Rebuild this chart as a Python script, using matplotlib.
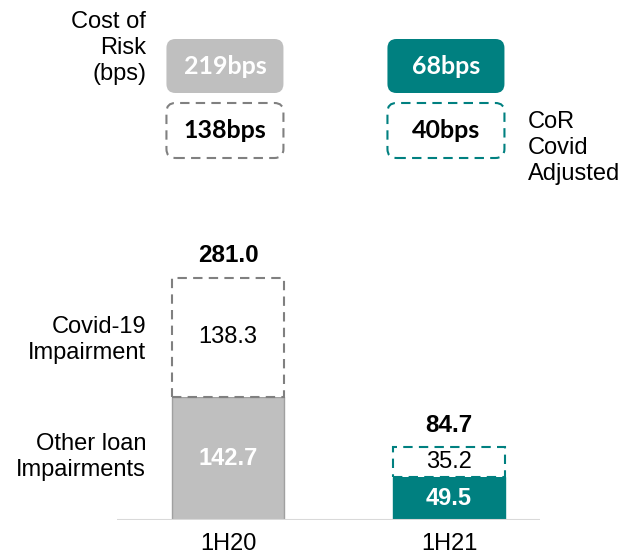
import matplotlib.pyplot as plt
from matplotlib.patches import FancyBboxPatch

plt.rcParams['font.family'] = ['Liberation Sans', 'DejaVu Sans']

periods = ['1H20', '1H21']
other_loan = [142.7, 49.5]
covid = [138.3, 35.2]
totals = [281.0, 84.7]
cor_bps = ['219bps', '68bps']
cor_adj_bps = ['138bps', '40bps']

grey = '#BFBFBF'
teal = '#008080'
solid_cols = [grey, teal]
dash_cols = ['#808080', teal]
label_cols = ['white', 'white']

W, H = 625, 557
fig = plt.figure(figsize=(W / 100, H / 100), dpi=100)

# bar axes: baseline at y=520px from top
ax = fig.add_axes([117 / W, 37 / H, 423 / W, 280 / H])
ax.set_xlim(-0.502, 1.412)
ax.set_ylim(0, 280 / 0.862)
x = range(len(periods))
bw = 0.506

ax.bar(x, other_loan, width=bw, color=solid_cols,
       edgecolor=['#A0A0A0', teal], linewidth=1.0, zorder=2)
ax.bar(x, covid, bottom=other_loan, width=bw, color='white',
       edgecolor=dash_cols, linewidth=1.5, linestyle=(0, (4.5, 3)), zorder=2)

for i in x:
    ax.text(i, other_loan[i] / 2, f'{other_loan[i]:.1f}', ha='center', va='center',
            fontsize=17, fontweight='bold', color=label_cols[i])
    ax.text(i, other_loan[i] + covid[i] / 2, f'{covid[i]:.1f}', ha='center',
            va='center', fontsize=17, color='black')
    ax.text(i, totals[i] + 12, f'{totals[i]:.1f}', ha='center', va='bottom',
            fontsize=17.5, fontweight='bold', color='black')
    ax.text(i, -15, periods[i], ha='center', va='top', fontsize=17, color='black')

ax.axhline(0, color='#D9D9D9', linewidth=1.5, zorder=3)
for s in ax.spines.values():
    s.set_visible(False)
ax.set_xticks([])
ax.set_yticks([])

# side labels
fig.text(146 / W, 1 - 340 / H, 'Covid-19\nImpairment', ha='right', va='center',
         fontsize=17, linespacing=1.25)
fig.text(146 / W, 1 - 457 / H, 'Other loan\nImpairments', ha='right', va='center',
         fontsize=17, linespacing=1.25)
fig.text(146 / W, 1 - 48 / H, 'Cost of\nRisk\n(bps)', ha='right', va='center',
         fontsize=17, linespacing=1.22)
fig.text(528 / W, 1 - 148 / H, 'CoR\nCovid\nAdjusted', ha='left', va='center',
         fontsize=17, linespacing=1.22)

# cost of risk boxes, in pixel coordinates above each bar
top = fig.add_axes([0, 0, 1, 1])
top.set_xlim(0, W)
top.set_ylim(0, H)
top.axis('off')
top.patch.set_alpha(0)

bx_w = 117
for i in x:
    cx = ax.transData.transform((i, 0))[0] - 3
    # solid box
    y0 = H - 93
    top.add_patch(FancyBboxPatch((cx - bx_w / 2, y0), bx_w, 54,
                                 boxstyle='round,pad=0,rounding_size=9',
                                 facecolor=solid_cols[i], edgecolor='none'))
    top.text(cx, y0 + 27, cor_bps[i], ha='center', va='center', fontsize=18,
             fontweight='bold', color='white', family=['Lato', 'DejaVu Sans'])
    # dashed box
    y1 = H - 158
    top.add_patch(FancyBboxPatch((cx - bx_w / 2, y1), bx_w, 55,
                                 boxstyle='round,pad=0,rounding_size=9',
                                 facecolor='white', edgecolor=dash_cols[i],
                                 linewidth=1.5, linestyle=(0, (4.5, 3))))
    top.text(cx, y1 + 27, cor_adj_bps[i], ha='center', va='center', fontsize=18,
             fontweight='bold', color='black', family=['Lato', 'DejaVu Sans'])

fig.savefig('out.png', dpi=100)
